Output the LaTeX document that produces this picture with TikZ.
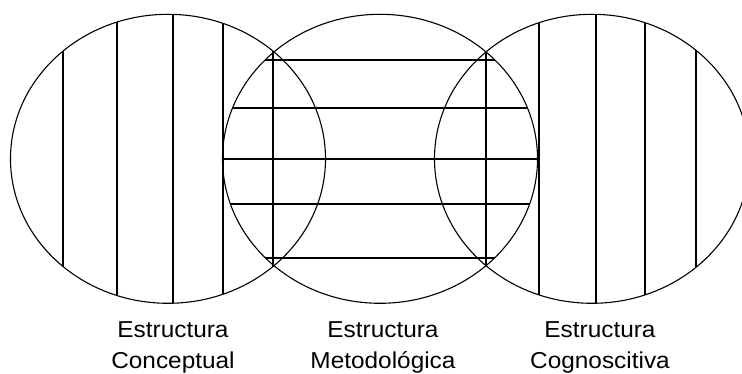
\documentclass[tikz,border=0pt]{standalone}
\usepackage{fontspec}
\setmainfont{Liberation Sans}
\begin{document}
\begin{tikzpicture}[x=1pt,y=-1pt,
  ring/.style={line width=1.1pt},
  hatch/.style={line width=1.4pt},
  lbl/.style={anchor=base,inner sep=0pt,font=\fontsize{23}{27}\selectfont,xscale=1.06}]
\clip (0,0) rectangle (742,374);
% vertical hatching of left ellipse
\begin{scope}
\clip (168,158.8) ellipse [x radius=157.5,y radius=144.5];
\foreach \x in {63,117,173,223,273} \draw[hatch] (\x,0) -- (\x,320);
\end{scope}
% vertical hatching of right ellipse
\begin{scope}
\clip (592,158.8) ellipse [x radius=157.5,y radius=144.5];
\foreach \x in {486,539,596,645,696} \draw[hatch] (\x,0) -- (\x,320);
\end{scope}
% horizontal hatching of middle ellipse
\begin{scope}
\clip (380,158.8) ellipse [x radius=157.5,y radius=144.5];
\foreach \y in {60,108,159,204,258} \draw[hatch] (200,\y) -- (560,\y);
\end{scope}
% outlines
\draw[ring] (168,158.8) ellipse [x radius=157.5,y radius=144.5];
\draw[ring] (380,158.8) ellipse [x radius=157.5,y radius=144.5];
\draw[ring] (592,158.8) ellipse [x radius=157.5,y radius=144.5];
% labels
\node[lbl] (l1a) at (173,337) {Estructura};
\node[lbl] (l1b) at (173,368) {Conceptual};
\node[lbl] (l2a) at (383,337) {Estructura};
\node[lbl] (l2b) at (383,368) {Metodológica};
\node[lbl] (l3a) at (600,337) {Estructura};
\node[lbl] (l3b) at (600,368) {Cognoscitiva};
\end{tikzpicture}
\end{document}
